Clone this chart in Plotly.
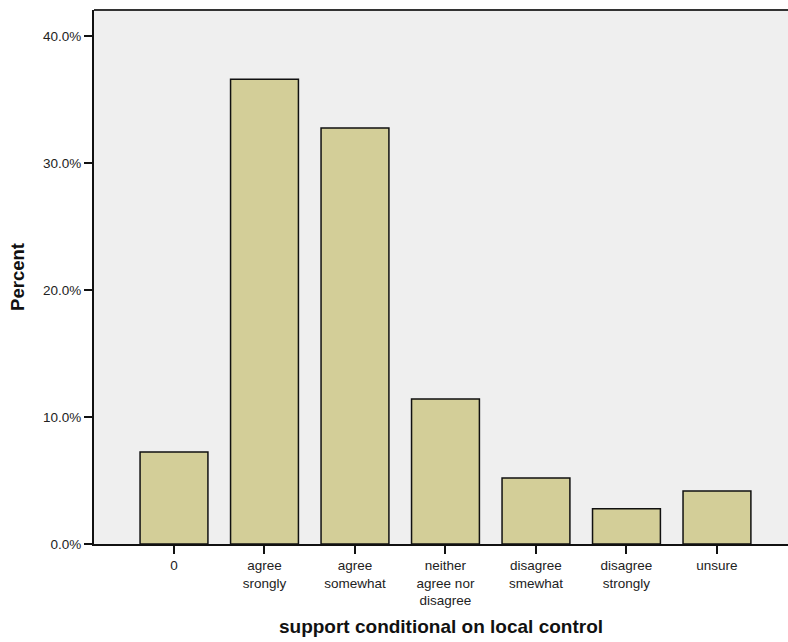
import plotly.graph_objects as go

categories = ["0", "agree<br>srongly", "agree<br>somewhat", "neither<br>agree nor<br>disagree",
              "disagree<br>smewhat", "disagree<br>strongly", "unsure"]
percent = [7.24, 36.6, 32.76, 11.42, 5.2, 2.78, 4.17]
y_ticks = [0, 10, 20, 30, 40]
y_ticktext = ["0.0%", "10.0%", "20.0%", "30.0%", "40.0%"]

xpos = list(range(len(categories)))

fig = go.Figure()
fig.add_trace(go.Bar(
    x=xpos, y=percent, width=0.75,
    marker=dict(color="#D3CE98", line=dict(color="#111111", width=1.5)),
    hoverinfo="y",
))

font_family = "Liberation Sans, Arial, sans-serif"
fig.update_layout(
    width=788, height=642,
    margin=dict(l=94, r=0, t=10, b=98),
    paper_bgcolor="white",
    plot_bgcolor="#EFEFEF",
    showlegend=False,
    font=dict(family=font_family, size=13, color="#222222"),
    xaxis=dict(
        tickmode="array", tickvals=xpos, ticktext=categories,
        range=[-0.884, 6.785],
        showline=True, linecolor="#111111", linewidth=2,
        ticks="outside", ticklen=8, tickwidth=1.5, tickcolor="#111111",
        showgrid=False, zeroline=False,
        tickfont=dict(size=13.5, color="#222222"),
        title=dict(text="<b>support conditional on local control</b>",
                   font=dict(size=19, color="#111111"), standoff=12),
    ),
    yaxis=dict(
        tickmode="array", tickvals=y_ticks, ticktext=y_ticktext,
        range=[0, 42.05],
        showline=True, linecolor="#111111", linewidth=2,
        ticks="outside", ticklen=8, tickwidth=1.5, tickcolor="#111111",
        showgrid=False, zeroline=False,
        tickfont=dict(size=13.5, color="#222222"),
        title=dict(text="<b>Percent</b>", font=dict(size=18.5, color="#111111"), standoff=14),
    ),
    shapes=[dict(type="line", xref="paper", yref="paper", x0=0, x1=1, y0=1, y1=1,
                 line=dict(color="#333333", width=2))],
)

fig.write_html("out.html", config={"displayModeBar": False},
               post_script="document.body.style.margin='0';document.body.style.overflow='hidden';")
